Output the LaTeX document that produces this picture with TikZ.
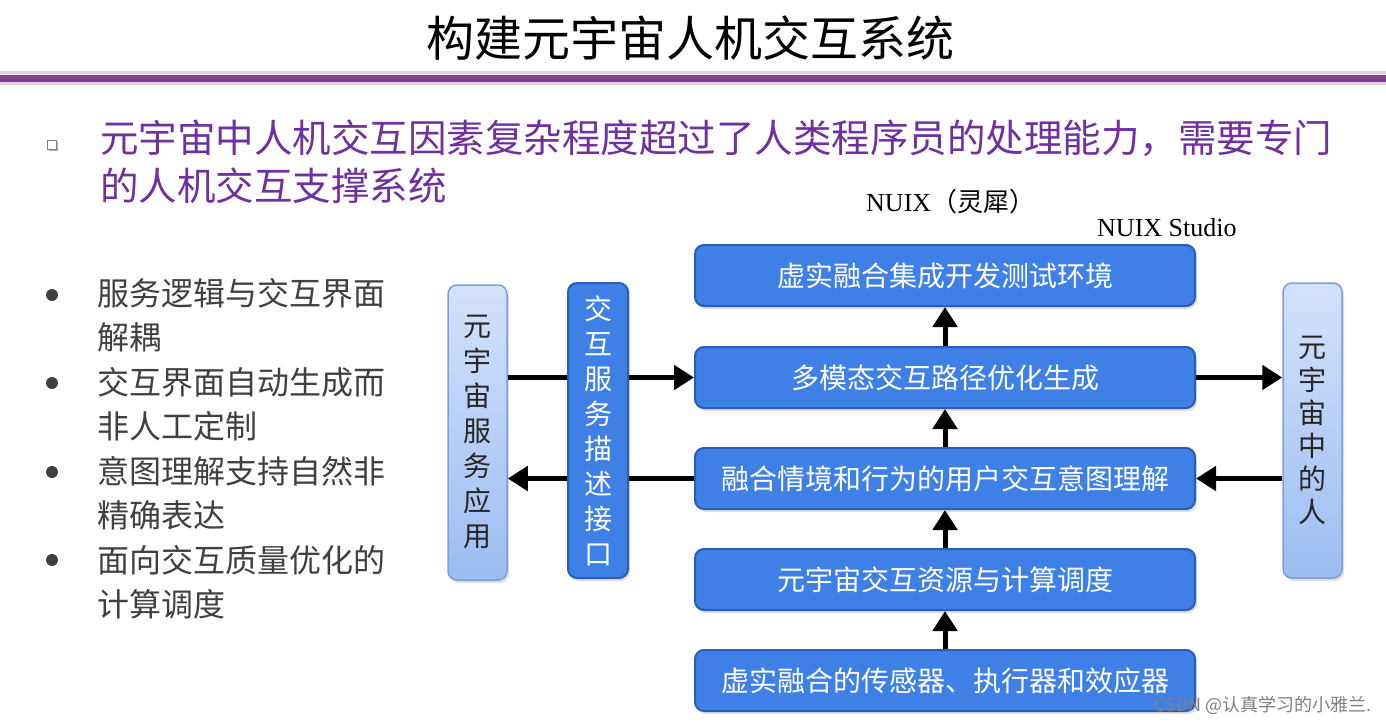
\documentclass[tikz,border=0pt]{standalone}
\usepackage{fontspec}
\setmainfont{Liberation Serif}
\newfontfamily\cjk{Noto Sans CJK SC}
\usetikzlibrary{arrows.meta,shadows}
\definecolor{boxblue}{HTML}{3F80E6}
\definecolor{boxedge}{HTML}{2A5CB8}
\definecolor{lightA}{HTML}{D3E2FB}
\definecolor{lightB}{HTML}{9CBDF2}
\definecolor{lightedge}{HTML}{7C9FDC}
\definecolor{titlepurple}{HTML}{7E3F8F}
\definecolor{textpurple}{HTML}{7030A0}
\definecolor{bodygray}{HTML}{404040}
\tikzset{
  blubox/.style={draw=boxedge, line width=2pt, fill=boxblue, rounded corners=9pt,
    text=white, font=\cjk\fontsize{28}{34}\selectfont,
    minimum width=500pt, minimum height=61pt, inner sep=0pt,
    drop shadow={opacity=0.25, shadow xshift=2pt, shadow yshift=-3pt}},
  vbox/.style={draw=boxedge, line width=2pt, fill=boxblue, rounded corners=9pt,
    text=white, font=\cjk\fontsize{28}{35}\selectfont, align=center,
    minimum width=60pt, minimum height=295pt, inner sep=0pt,
    drop shadow={opacity=0.25, shadow xshift=2pt, shadow yshift=-3pt}},
  lbox/.style={draw=lightedge, line width=1.5pt, top color=lightA, bottom color=lightB,
    rounded corners=9pt, text=black!85, align=center,
    minimum width=59pt, minimum height=295pt, inner sep=0pt,
    drop shadow={opacity=0.25, shadow xshift=2pt, shadow yshift=-3pt}},
  arr/.style={line width=5pt, -{Triangle[length=20pt,width=24pt]}},
  seg/.style={line width=5pt},
  bul/.style={anchor=west, text=bodygray, font=\cjk\fontsize{32}{38}\selectfont, inner sep=0pt},
  pur/.style={anchor=west, text=textpurple, font=\cjk\fontsize{38.5}{44}\selectfont, inner sep=0pt},
}
\begin{document}
\begin{tikzpicture}[x=1pt, y=-1pt]
\useasboundingbox[fill=white] (0,0) rectangle (1386,725);

% title
\node[font=\cjk\fontsize{48}{54}\selectfont, inner sep=0pt] (title) at (690,38) {构建元宇宙人机交互系统};
\fill[titlepurple!25] (0,71) rectangle (1386,74);
\fill[titlepurple!25] (0,82) rectangle (1386,85);
\fill[titlepurple] (0,74.5) rectangle (1386,81.5);

% purple statement
\node[draw=gray, fill=white, minimum size=9pt, inner sep=0pt,
  drop shadow={opacity=0.6, shadow xshift=1.5pt, shadow yshift=-1.5pt}] (sq) at (52,145) {};
\node[pur] (p1) at (100,138) {元宇宙中人机交互因素复杂程度超过了人类程序员的处理能力，需要专门};
\node[pur] (p2) at (100,186) {的人机交互支撑系统};

% left bullets
\foreach \yy in {295,383,472,560}{
  \fill[bodygray] (52,\yy) circle (6pt);
}
\node[bul] (b1a) at (97,293) {服务逻辑与交互界面};
\node[bul] (b1b) at (97,337) {解耦};
\node[bul] (b2a) at (97,382) {交互界面自动生成而};
\node[bul] (b2b) at (97,426) {非人工定制};
\node[bul] (b3a) at (97,471) {意图理解支持自然非};
\node[bul] (b3b) at (97,515) {精确表达};
\node[bul] (b4a) at (97,560) {面向交互质量优化的};
\node[bul] (b4b) at (97,604) {计算调度};

% NUIX labels
\node[anchor=west, inner sep=0pt, font=\fontsize{26}{30}\selectfont] (nuix) at (866,202) {NUIX{\cjk （灵犀）}};
\node[anchor=west, inner sep=0pt, font=\fontsize{26}{30}\selectfont] (studio) at (1097,228) {NUIX Studio};

% main boxes
\node[blubox] (k1) at (945,275.5) {虚实融合集成开发测试环境};
\node[blubox] (k2) at (945,377.5) {多模态交互路径优化生成};
\node[blubox] (k3) at (945,478.5) {融合情境和行为的用户交互意图理解};
\node[blubox] (k4) at (945,579.5) {元宇宙交互资源与计算调度};
\node[blubox] (k5) at (945,680.5) {虚实融合的传感器、执行器和效应器};

% side boxes
\node[lbox, font=\cjk\fontsize{28}{35}\selectfont] (app) at (477.5,432.5) {元\\宇\\宙\\服\\务\\应\\用};
\node[vbox] (iface) at (598,430.5) {交\\互\\服\\务\\描\\述\\接\\口};
\node[lbox, font=\cjk\fontsize{28}{33}\selectfont] (person) at (1312.5,430.5) {元\\宇\\宙\\中\\的\\人};

% vertical arrows
\draw[arr] (k5.north) -- (k4.south);
\draw[arr] (k4.north) -- (k3.south);
\draw[arr] (k3.north) -- (k2.south);
\draw[arr] (k2.north) -- (k1.south);

% horizontal arrows
\draw[seg] (app.east |- k2.west) -- (iface.west |- k2.west);
\draw[arr] (iface.east |- k2.west) -- (k2.west);
\draw[seg] (k3.west) -- (iface.east |- k3.west);
\draw[arr] (iface.west |- k3.west) -- (app.east |- k3.west);
\draw[arr] (k2.east) -- (person.west |- k2.east);
\draw[arr] (person.west |- k3.east) -- (k3.east);

% watermark
\node[anchor=east, inner sep=0pt, text=gray, font=\cjk\fontsize{18}{20}\selectfont] (wm) at (1372,705) {CSDN @认真学习的小雅兰.};
\end{tikzpicture}
\end{document}
